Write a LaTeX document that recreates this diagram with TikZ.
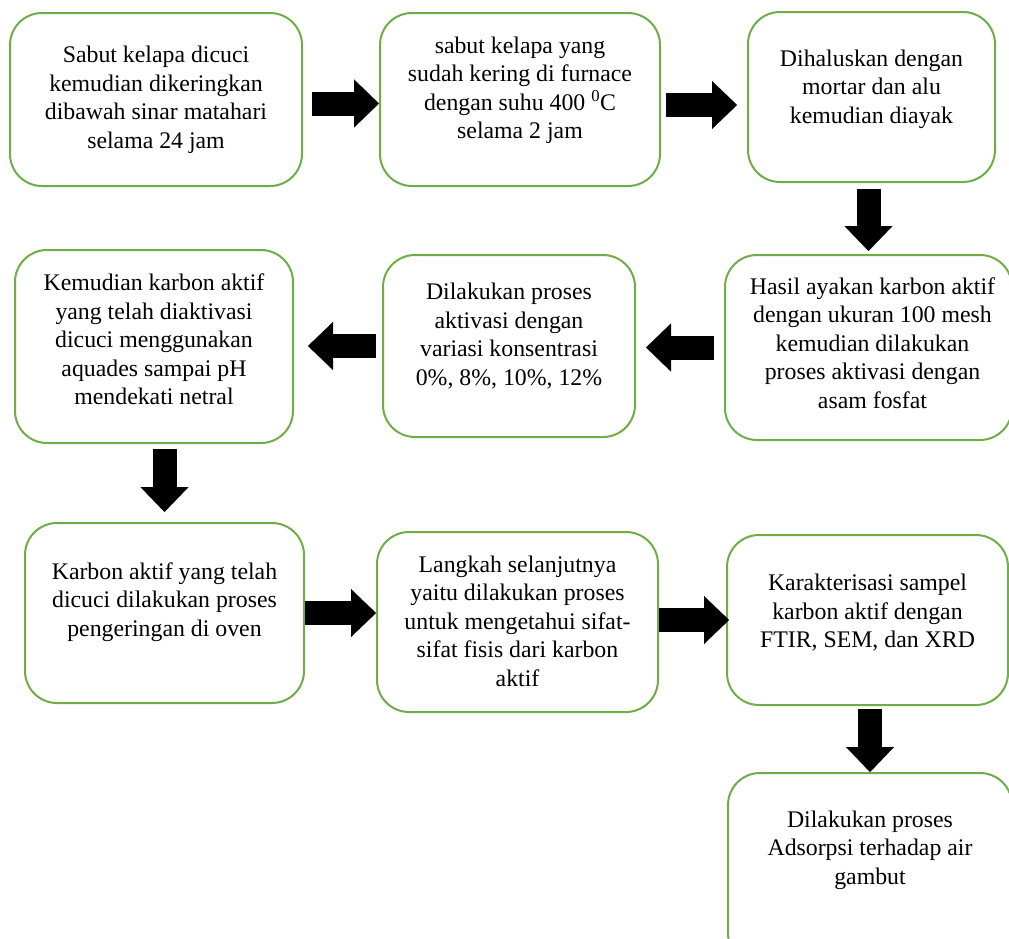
\documentclass[tikz,border=0pt]{standalone}
\usepackage{fontspec}
\setmainfont{Liberation Serif}
\usetikzlibrary{arrows.meta}

\definecolor{boxgreen}{RGB}{112,173,71}

\tikzset{
  stepbox/.style={draw=boxgreen, line width=2pt, rounded corners=32pt, fill=white,
    inner sep=0pt},
  steptext/.style={align=center, inner sep=0pt,
    font=\fontsize{23.8}{28.5}\selectfont},
  blockarrow/.style={line width=24pt,
    -{Triangle[length=25pt, width=48pt, line width=0.1pt]}}
}

\begin{document}
\begin{tikzpicture}[x=1pt,y=-1pt]
\useasboundingbox (0,0) rectangle (1009,938);

% Boxes
\node[stepbox, minimum width=292pt, minimum height=173pt] (b1) at (156,99.5) {};
\node[stepbox, minimum width=280pt, minimum height=173pt] (b2) at (520,99.5) {};
\node[stepbox, minimum width=247pt, minimum height=170pt] (b3) at (871.5,97) {};
\node[stepbox, minimum width=287pt, minimum height=185pt] (b4) at (868.5,347.5) {};
\node[stepbox, minimum width=252pt, minimum height=182pt] (b5) at (509,346) {};
\node[stepbox, minimum width=278pt, minimum height=193pt] (b6) at (154,346.5) {};
\node[stepbox, minimum width=279pt, minimum height=180pt] (b7) at (164.5,613) {};
\node[stepbox, minimum width=281pt, minimum height=180pt] (b8) at (517.5,622) {};
\node[stepbox, minimum width=281pt, minimum height=170pt] (b9) at (867.5,620) {};
\node[stepbox, minimum width=284pt, minimum height=192pt] (b10) at (870,869) {};

% Text Nodes
\node[steptext] (t1) at ([yshift=-0.5pt]b1) {Sabut kelapa dicuci\\kemudian dikeringkan\\dibawah sinar matahari\\selama 24 jam};
\node[steptext] (t2) at ([yshift=9pt]b2) {sabut kelapa yang\\sudah kering di furnace\\dengan suhu 400 \textsuperscript{0}C\\selama 2 jam};
\node[steptext] (t3) at ([yshift=8pt]b3) {Dihaluskan dengan\\mortar dan alu\\kemudian diayak};
\node[steptext] (t4) at ([xshift=4pt,yshift=4.5pt]b4) {Hasil ayakan karbon aktif\\dengan ukuran 100 mesh\\kemudian dilakukan\\proses aktivasi dengan\\asam fosfat};
\node[steptext] (t5) at ([yshift=10pt]b5) {Dilakukan proses\\aktivasi dengan\\variasi konsentrasi\\0\%, 8\%, 10\%, 12\%};
\node[steptext] (t6) at ([yshift=7pt]b6) {Kemudian karbon aktif\\yang telah diaktivasi\\dicuci menggunakan\\aquades sampai pH\\mendekati netral};
\node[steptext] (t7) at ([yshift=11pt]b7) {Karbon aktif yang telah\\dicuci dilakukan proses\\pengeringan di oven};
\node[steptext] (t8) at ([yshift=1pt]b8) {Langkah selanjutnya\\yaitu dilakukan proses\\untuk mengetahui sifat-\\sifat fisis dari karbon\\aktif};
\node[steptext] (t9) at ([yshift=7pt]b9) {Karakterisasi sampel\\karbon aktif dengan\\FTIR, SEM, dan XRD};
\node[steptext] (t10) at ([yshift=19pt]b10) {Dilakukan proses\\Adsorpsi terhadap air\\gambut};

% Arrows
\draw[blockarrow, shorten <=9pt] ([yshift=-4pt]b1.east) -- ([yshift=-4pt]b1.east -| b2.west);
\draw[blockarrow, shorten <=5pt, shorten >=10pt] ([yshift=-5.5pt]b2.east) -- ([yshift=-5.5pt]b2.east -| b3.west);
\draw[blockarrow, shorten <=6pt, shorten >=3pt] (b4.north |- b3.south) -- (b4.north);
\draw[blockarrow, shorten <=10pt, shorten >=10pt] (b4.west) -- (b4.west -| b5.east);
\draw[blockarrow, shorten <=6pt, shorten >=14pt] (b5.west) -- (b5.west -| b6.east);
\draw[blockarrow, shorten <=5pt, shorten >=10pt] (b7.north |- b6.south) -- (b7.north);
\draw[blockarrow] (b7.east) -- (b7.east -| b8.west);
\draw[blockarrow, shorten >=-3pt] (b9.west -| b8.east) -- (b9.west);
\draw[blockarrow, shorten <=3pt] (b10.north |- b9.south) -- (b10.north);
\end{tikzpicture}
\end{document}
